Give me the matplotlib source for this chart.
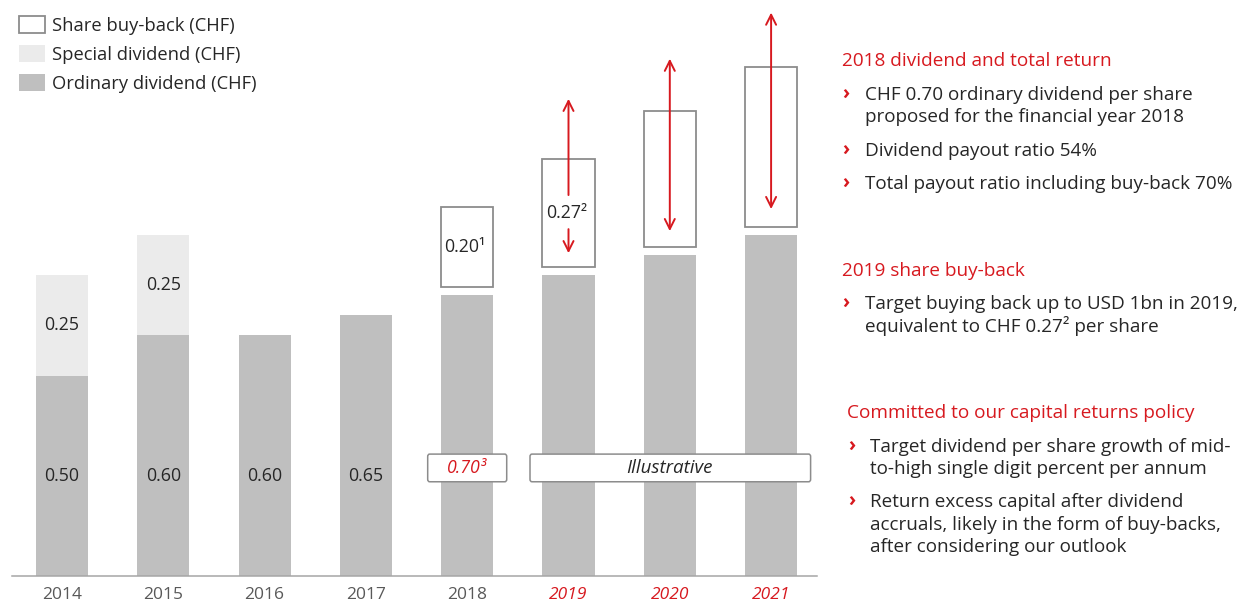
import matplotlib
matplotlib.use("Agg")
import matplotlib.pyplot as plt
from matplotlib.patches import Patch, FancyBboxPatch

plt.rcParams['font.family'] = ['Open Sans', 'DejaVu Sans']

# ---------------- data ----------------
years = ['2014', '2015', '2016', '2017', '2018', '2019', '2020', '2021']
ordinary = [0.50, 0.60, 0.60, 0.65, 0.70, 0.75, 0.80, 0.85]
special = [0.25, 0.25, 0, 0, 0, 0, 0, 0]
ordinary_labels = ['0.50', '0.60', '0.60', '0.65', None, None, None, None]
special_labels = ['0.25', '0.25', None, None, None, None, None, None]
buyback = [0, 0, 0, 0, 0.20, 0.27, 0.34, 0.40]
buyback_labels = [None, None, None, None, '0.20¹', '0.27²', None, None]
# illustrative range arrows (value units)
arrow_top = [None, None, None, None, None, 1.19, 1.29, 1.405]
arrow_bottom = [None, None, None, None, None, 0.805, 0.86, 0.915]

RED = '#D7191F'
DARK = '#262626'
GRAY_TXT = '#595959'
ORD_C = '#BFBFBF'
SPEC_C = '#EBEBEB'
EDGE_C = '#8C8C8C'

W, H = 1242, 601
fig = plt.figure(figsize=(W / 100, H / 100), dpi=100)
ax = fig.add_axes([0, 0, 830 / W, 1])

x = list(range(len(years)))
px_unit_x = 101.3
px_unit_y = 401.0
ax.set_xlim(-62 / px_unit_x, (830 - 62) / px_unit_x)
ax.set_ylim(-(601 - 576) / px_unit_y, 576 / px_unit_y)

bw = 0.515
gap = 0.02
ax.bar(x, ordinary, width=bw, color=ORD_C, edgecolor='none', zorder=2)
ax.bar(x, special, width=bw, bottom=ordinary, color=SPEC_C, edgecolor='none', zorder=2)
bb_bottom = [o + (gap if b > 0 else 0) for o, b in zip(ordinary, buyback)]
for xi, b, bt in zip(x, buyback, bb_bottom):
    if b > 0:
        ax.bar(xi, b, width=bw, bottom=bt, color='white', edgecolor=EDGE_C,
               linewidth=1.3, zorder=3)

lab_fs = 12.8
for xi, o, lab in zip(x, ordinary, ordinary_labels):
    if lab:
        ax.text(xi, 0.25, lab, ha='center', va='center', fontsize=lab_fs, color=DARK, zorder=5)
for xi, o, s, lab in zip(x, ordinary, special, special_labels):
    if lab:
        ax.text(xi, o + s / 2, lab, ha='center', va='center', fontsize=lab_fs, color=DARK, zorder=5)
for xi, bt, b, lab in zip(x, bb_bottom, buyback, buyback_labels):
    if lab:
        ax.text(xi - 0.02, bt + b / 2, lab, ha='center', va='center', fontsize=lab_fs,
                color=DARK, zorder=5)

# arrows
aprops = dict(arrowstyle='->', color=RED, lw=1.4, mutation_scale=18,
              shrinkA=0, shrinkB=0)
for xi, t, btm, lab, bt, b in zip(x, arrow_top, arrow_bottom, buyback_labels, bb_bottom, buyback):
    if t is None:
        continue
    if lab:
        mid = bt + b / 2
        ax.annotate('', xy=(xi, t), xytext=(xi, mid + 0.045), arrowprops=aprops, zorder=6)
        ax.annotate('', xy=(xi, btm), xytext=(xi, mid - 0.04), arrowprops=aprops, zorder=6)
    else:
        p = dict(aprops)
        p['arrowstyle'] = '<->'
        ax.annotate('', xy=(xi, t), xytext=(xi, btm), arrowprops=p, zorder=6)

# label boxes "0.70³" and "Illustrative"
box1 = FancyBboxPatch((3.61, 0.235), 0.78, 0.069,
                      boxstyle='round,pad=0,rounding_size=0.02',
                      facecolor='white', edgecolor=EDGE_C, lw=1.1, zorder=4,
                      mutation_aspect=0.3)
ax.add_patch(box1)
ax.text(4.0, 0.2695, '0.70³', ha='center', va='center', fontsize=12.8,
        style='italic', color=RED, zorder=5)
box2 = FancyBboxPatch((4.62, 0.235), 2.77, 0.069,
                      boxstyle='round,pad=0,rounding_size=0.02',
                      facecolor='white', edgecolor=EDGE_C, lw=1.1, zorder=4,
                      mutation_aspect=0.3)
ax.add_patch(box2)
ax.text(6.0, 0.2695, 'Illustrative', ha='center', va='center', fontsize=13.5,
        style='italic', color=DARK, zorder=5)

# axes styling
for s in ['top', 'right', 'left']:
    ax.spines[s].set_visible(False)
ax.spines['bottom'].set_position(('data', 0))
ax.spines['bottom'].set_bounds(-0.49, 7.45)
ax.spines['bottom'].set_color('#A6A6A6')
ax.spines['bottom'].set_linewidth(1.1)
ax.set_yticks([])
ax.set_xticks(x)
ax.set_xticklabels(years, fontsize=12.5)
ax.tick_params(axis='x', length=0, pad=8)
for i, t in enumerate(ax.get_xticklabels()):
    if i >= 5:
        t.set_color(RED)
        t.set_style('italic')
    else:
        t.set_color(GRAY_TXT)

# legend
handles = [Patch(facecolor='white', edgecolor=EDGE_C, linewidth=1.3, label='Share buy-back (CHF)'),
           Patch(facecolor=SPEC_C, edgecolor='none', label='Special dividend (CHF)'),
           Patch(facecolor=ORD_C, edgecolor='none', label='Ordinary dividend (CHF)')]
leg = ax.legend(handles=handles, loc='upper left', bbox_to_anchor=(19 / 830, 1 - 16 / 601),
                frameon=False, fontsize=13.2, handlelength=1.4, handleheight=1.05,
                handletextpad=0.4, labelspacing=0.56, borderaxespad=0, borderpad=0)
for t in leg.get_texts():
    t.set_color(DARK)

# right-hand text
def ftext(px, py, s, color=DARK, fs=13.6, **kw):
    fig.text(px / W, 1 - py / H, s, color=color, fontsize=fs, ha='left', va='center', **kw)

def bullet(px, py):
    ftext(px, py, '›', color=RED, fs=14, fontweight='bold')

ftext(842, 61, '2018 dividend and total return', color=RED, fs=13.7)
bullet(842, 95)
ftext(865, 95, 'CHF 0.70 ordinary dividend per share')
ftext(865, 117, 'proposed for the financial year 2018')
bullet(842, 151)
ftext(865, 151, 'Dividend payout ratio 54%')
bullet(842, 184)
ftext(865, 184, 'Total payout ratio including buy-back 70%')

ftext(842, 271, '2019 share buy-back', color=RED, fs=13.7)
bullet(842, 304)
ftext(865, 304, 'Target buying back up to USD 1bn in 2019,')
ftext(865, 326, 'equivalent to CHF 0.27² per share')

ftext(847, 413, 'Committed to our capital returns policy', color=RED, fs=13.7)
bullet(848, 447)
ftext(870, 447, 'Target dividend per share growth of mid-')
ftext(870, 469, 'to-high single digit percent per annum')
bullet(848, 502)
ftext(870, 502, 'Return excess capital after dividend')
ftext(870, 525, 'accruals, likely in the form of buy-backs,')
ftext(870, 547, 'after considering our outlook')

fig.savefig('out.png', dpi=100)
